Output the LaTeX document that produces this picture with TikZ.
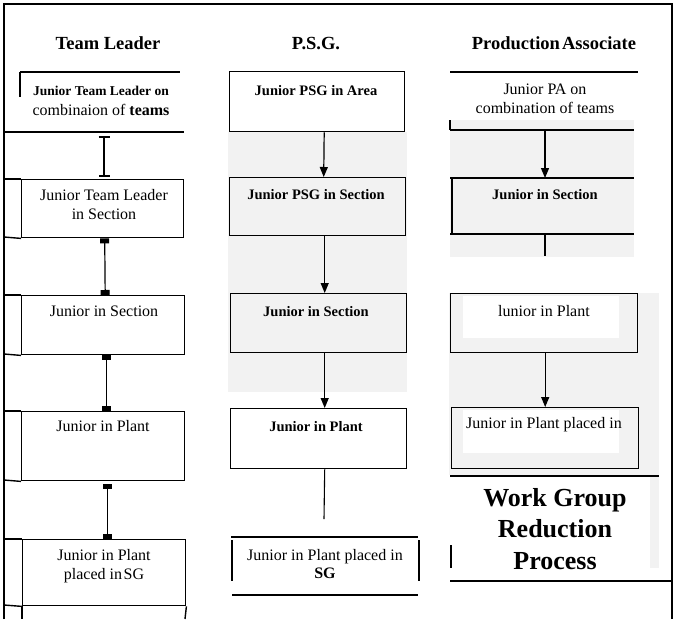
\documentclass[tikz,border=0pt]{standalone}
\usepackage{fontspec}
\setmainfont{Liberation Serif}
\usetikzlibrary{arrows.meta}
\tikzset{
  ln/.style={line width=1.4pt},
  thin ln/.style={line width=1.1pt},
  box/.style={draw, line width=1.4pt, anchor=north west, inner sep=0pt},
  rg/.style={font=\fontsize{16}{18.5}\selectfont, align=center, anchor=base, inner sep=0pt},
  bd/.style={font=\bfseries\fontsize{14.5}{18}\selectfont, align=center, anchor=base, inner sep=0pt},
  ttl/.style={font=\bfseries\fontsize{18.5}{22}\selectfont, anchor=base, inner sep=0pt},
  big/.style={font=\bfseries\fontsize{26}{31.5}\selectfont, align=center, anchor=base, inner sep=0pt},
  arr/.style={-{Triangle[length=10pt,width=8pt]}, line width=1.2pt},
  sq/.style={{Square[length=5pt,width=9pt]}-{Square[length=5pt,width=9pt]}, line width=1.2pt},
  ibar/.style={{Bar[width=11pt]}-{Bar[width=11pt]}, line width=2.2pt},
  bgray/.style={fill=black!5, draw=none},
}
\begin{document}
\begin{tikzpicture}[x=1pt,y=-1pt]
\useasboundingbox (0,0) rectangle (674,619);
% backgrounds
\fill[bgray] (228,132) rectangle (407,392);
\fill[bgray] (450,120) rectangle (634,257);
\fill[bgray] (449,293) rectangle (659,475);
\fill[bgray] (650,476) rectangle (659,568);
\fill[white] (463,296) rectangle (619,338);
\fill[white] (463,410) rectangle (619,453);
% frame
\draw[ln] (4,619) -- (4,4) -- (672,4) -- (672,619);

% titles
\node[ttl] (h1) at (108,49) {Team Leader};
\node[ttl] (h2) at (316,49) {P.S.G.};
\node[ttl] (h3) at (554,49) {Production\hspace{0.12em}Associate};

% ---------- column 1 ----------
\draw[ln] (20,72) -- (180,72);
\draw[ln] (20,72) -- (20,97);
\draw[ln] (4,132) -- (184,132);
\node[rg, font=\bfseries\fontsize{13.5}{18}\selectfont] (t1a) at (101,95) {Junior Team Leader on};
\node[rg] (t1b) at (101,115) {combinaion of \textbf{teams}};
\coordinate (i1) at (104,136);
\coordinate (i2) at (104,177);
\draw[ibar] (i1) -- (i2);

\node[box, minimum width=162pt, minimum height=58pt] (tl2) at (21,179) {};
\node[box, minimum width=163pt, minimum height=59pt] (tl3) at (21,295) {};
\node[box, minimum width=163pt, minimum height=69pt] (tl4) at (21,411) {};
\node[box, minimum width=163pt, minimum height=66pt] (tl5) at (22,539) {};
\draw[ln] (4,179) -- (tl2.north west);
\draw[ln] (4,237) -- (tl2.south west);
\draw[ln] (4,295) -- (tl3.north west);
\draw[ln] (4,354) -- (tl3.south west);
\draw[ln] (4,411) -- (tl4.north west);
\draw[ln] (4,480) -- (tl4.south west);
\draw[ln] (4,539) -- (tl5.north west);
\draw[ln] (4,605) -- (tl5.south west);
\draw[ln] (tl5.south west) -- (22,619);
\draw[ln] (tl5.south east) -- (185,619);

\node[rg] (t2) at (104,219) {Junior Team Leader\\in Section};
\node[rg] (t3) at (104,316) {Junior in Section};
\node[rg] (t4) at (103,431) {Junior in Plant};
\node[rg] (t5) at (104,579) {Junior in Plant\\placed in\hspace{0.1em}SG};

\draw[sq] ([xshift=2pt]tl2.south) -- ([xshift=2pt]tl3.north);
\draw[sq] ([xshift=3pt]tl3.south) -- ([xshift=3pt]tl4.north);
\draw[sq] ([xshift=4pt,yshift=-3pt]tl4.south) -- ([xshift=3pt]tl5.north);

% ---------- column 2 ----------
\node[box, minimum width=175pt, minimum height=60pt] (pA) at (229,71) {};
\node[box, minimum width=176pt, minimum height=58pt] (pB) at (229,177) {};
\node[box, minimum width=176pt, minimum height=59pt] (pC) at (230,293) {};
\node[box, minimum width=176pt, minimum height=60pt] (pD) at (230,408) {};
\node[bd] (s1) at (316,95) {Junior PSG in Area};
\node[bd] (s2) at (316,199) {Junior PSG in Section};
\node[bd] (s3) at (316,316) {Junior in Section};
\node[bd] (s4) at (316,431) {Junior in Plant};
\draw[arr] ([xshift=7pt]pA.south) -- ([xshift=6pt]pB.north);
\draw[arr] ([xshift=7pt]pB.south) -- ([xshift=6pt]pC.north);
\draw[arr] ([xshift=6pt]pC.south) -- ([xshift=6pt]pD.north);
\coordinate (pe) at (324,519);
\draw[thin ln] ([xshift=6pt]pD.south) -- (pe);
\draw[ln] (231,537) -- (418,537);
\draw[ln] (232,540) -- (232,581);
\draw[ln] (419,540) -- (419,581);
\draw[ln] (232,595) -- (418,595);
\node[rg] (s5) at (325,560) {Junior in Plant placed in};
\node[rg, font=\bfseries\fontsize{16}{18.5}\selectfont] (s6) at (325,578) {SG};

% ---------- column 3 ----------
\draw[ln] (450,72) -- (638,72);
\node[rg] (a1) at (545,113) {Junior PA on\\combination of teams};
\draw[ln] (450,120) -- (450,130);
\draw[ln] (450,130) -- (634,130);
\coordinate (c1) at (545,130);
\coordinate (c2) at (545,178);
\draw[arr] (c1) -- (c2);
\draw[ln] (450,178) -- (634,178);
\draw[ln] (452,178) -- (452,234);
\draw[ln] (450,234) -- (634,234);
\node[bd] (a2) at (545,199) {Junior in Section};
\coordinate (c3) at (545,234);
\coordinate (c4) at (545,256);
\draw[thin ln] (c3) -- (c4);

\node[box, minimum width=187pt, minimum height=59pt] (pa3) at (450,293) {};
\node[box, minimum width=187pt, minimum height=61pt] (pa4) at (451,407) {};
\node[rg] (a3) at (544,316) {lunior in Plant};
\node[rg] (a4) at (544,428) {Junior in Plant placed in};
\draw[arr] ([xshift=1pt]pa3.south) -- (pa4.north);

\draw[ln] (450,476) -- (659,476);
\node[big] (w1) at (555,569) {Work Group\\Reduction\\Process};
\draw[ln] (451,545) -- (451,568);
\draw[ln] (450,581) -- (672,581);
\end{tikzpicture}
\end{document}
